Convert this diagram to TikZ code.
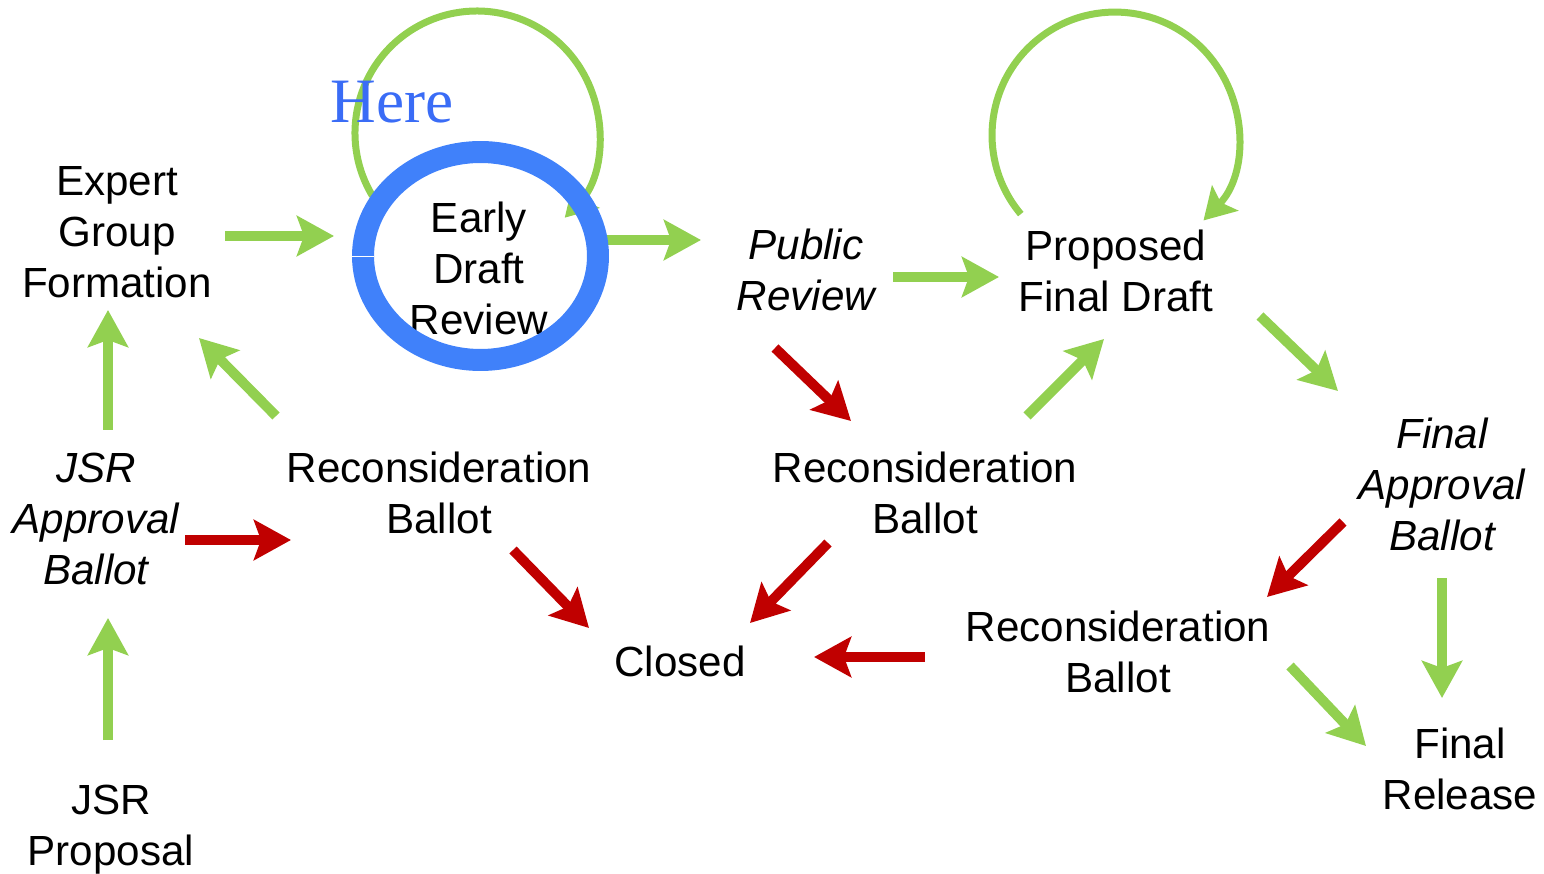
\documentclass[tikz,border=0pt]{standalone}
\usepackage{fontspec}
\setmainfont{Liberation Sans}
\newfontfamily\markfont{Liberation Serif}
\usetikzlibrary{arrows.meta}
\definecolor{flowgreen}{HTML}{92D050}
\definecolor{flowred}{HTML}{C00000}
\definecolor{ringblue}{HTML}{4081FA}
\definecolor{markblue}{HTML}{3A6CF6}
\begin{document}
\begin{tikzpicture}[x=0.02cm,y=-0.02cm,
  stage/.style={align=center,inner sep=0pt,font=\fontsize{24}{29}\selectfont},
  ballot/.style={stage,font=\fontsize{24}{29}\selectfont\itshape},
  greenarrow/.style={draw=flowgreen,line width=0.2cm,
    -{Stealth[length=0.74cm,width=0.8cm,inset=0.14cm]}},
  redarrow/.style={greenarrow,draw=flowred},
  looparrow/.style={draw=flowgreen,line width=0.14cm,
    -{Stealth[length=0.62cm,width=0.72cm,inset=0.12cm]}},
]
\useasboundingbox (0,0) rectangle (1544,874);

% self loops of the two draft stages
\coordinate (edr-loop) at (372.4,195.8);
\coordinate (pfd-loop) at (1020.8,214.1);
\draw[looparrow] (edr-loop) arc[start angle=211,end angle=-44,radius=2.44cm];
\draw[looparrow] (pfd-loop) arc[start angle=220,end angle=-44,radius=2.46cm];

% stages
\node[stage]  (egf) at (117,232)  {Expert\\Group\\Formation};
\node[stage]  (edr) at (479,268)  {Early\\Draft\\Review};
\node[ballot] (pr)  at (806,270)  {Public\\Review};
\node[stage]  (pfd) at (1116,271) {Proposed\\Final Draft};
\node[ballot] (fab) at (1442,484) {Final\\Approval\\Ballot};
\node[stage]  (fr)  at (1460,769) {Final\\Release};
\node[stage]  (rb3) at (1118,652) {Reconsideration\\Ballot};
\node[stage]  (cl)  at (680,661)  {Closed};
\node[stage]  (rb2) at (925,493)  {Reconsideration\\Ballot};
\node[stage]  (rb1) at (439,493)  {Reconsideration\\Ballot};
\node[ballot] (jab) at (96,519)   {JSR\\Approval\\Ballot};
\node[stage]  (jp)  at (111,830)  {JSR\\Proposal};

% arrow ends
\coordinate (egf-o) at (225,236);  \coordinate (edr-i) at (334,236);
\coordinate (edr-o) at (600,240);  \coordinate (pr-i)  at (701,240);
\coordinate (pr-o)  at (893,277);  \coordinate (pfd-i) at (999,277);
\coordinate (jab-o) at (108,430);  \coordinate (egf-i) at (108,310);
\coordinate (jp-o)  at (108,740);  \coordinate (jab-i) at (108,618);
\coordinate (rb1-o) at (276,416);  \coordinate (egf-j) at (199,338);
\coordinate (rb2-o) at (1027,416); \coordinate (pfd-j) at (1104,339);
\coordinate (pfd-o) at (1260,316); \coordinate (fab-i) at (1338,391);
\coordinate (fab-o) at (1442,578); \coordinate (fr-i)  at (1442,698);
\coordinate (rb3-o) at (1290,666); \coordinate (fr-j)  at (1366,746);
\coordinate (jab-p) at (185,540);  \coordinate (rb1-i) at (291,540);
\coordinate (pr-p)  at (775,348);  \coordinate (rb2-i) at (851,421);
\coordinate (rb1-p) at (513,550);  \coordinate (cl-i)  at (589,628);
\coordinate (rb2-p) at (828,543);  \coordinate (cl-j)  at (750,623);
\coordinate (fab-p) at (1343,522); \coordinate (rb3-i) at (1267,597);
\coordinate (rb3-p) at (925,657);  \coordinate (cl-k)  at (814,657);

% forward transitions
\draw[greenarrow] (egf-o) -- (edr-i);
\draw[greenarrow] (edr-o) -- (pr-i);
\draw[greenarrow] (pr-o)  -- (pfd-i);
\draw[greenarrow] (jab-o) -- (egf-i);
\draw[greenarrow] (jp-o)  -- (jab-i);
\draw[greenarrow] (rb1-o) -- (egf-j);
\draw[greenarrow] (rb2-o) -- (pfd-j);
\draw[greenarrow] (pfd-o) -- (fab-i);
\draw[greenarrow] (fab-o) -- (fr-i);
\draw[greenarrow] (rb3-o) -- (fr-j);

% failed ballots
\draw[redarrow] (jab-p) -- (rb1-i);
\draw[redarrow] (pr-p)  -- (rb2-i);
\draw[redarrow] (rb1-p) -- (cl-i);
\draw[redarrow] (rb2-p) -- (cl-j);
\draw[redarrow] (fab-p) -- (rb3-i);
\draw[redarrow] (rb3-p) -- (cl-k);

% current stage marker
\coordinate (ring-c) at (480.5,256);
\draw[ringblue,line width=0.44cm] (ring-c) ellipse [x radius=2.35cm,y radius=2.08cm];
\coordinate (seam-a) at (352,256.5);
\coordinate (seam-b) at (374,256.5);
\draw[white,line width=0.6pt] (seam-a) -- (seam-b);
\node[anchor=base west,inner sep=0pt,text=markblue,font=\markfont\fontsize{36}{40}\selectfont]
  (here) at (330,123) {Here};
\end{tikzpicture}
\end{document}
